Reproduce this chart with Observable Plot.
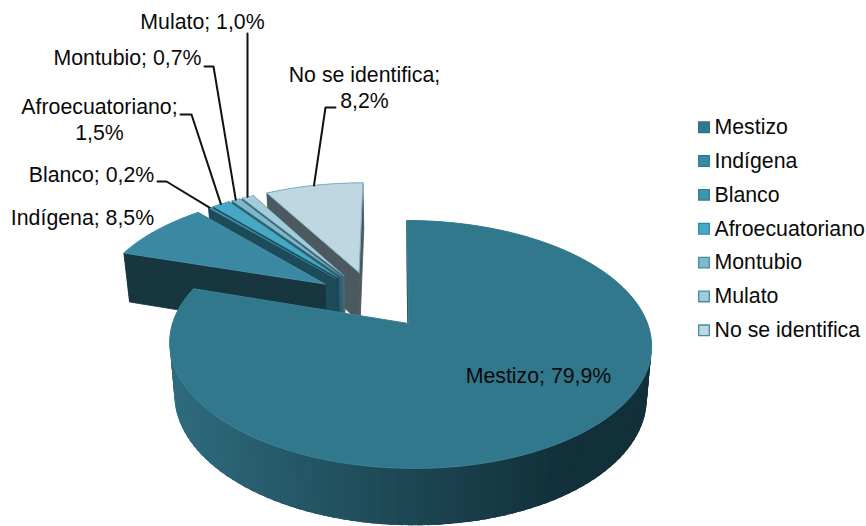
<!DOCTYPE html>
<html><head><meta charset="utf-8">
<style>html,body{margin:0;background:#fff}svg{display:block}</style>
<script src="https://cdn.jsdelivr.net/npm/d3@7"></script>
<script src="https://cdn.jsdelivr.net/npm/@observablehq/plot@0.6"></script>
</head><body><script>
// Data
const categories = ["Mestizo","Indígena","Blanco","Afroecuatoriano","Montubio","Mulato","No se identifica"];
const shares = [79.9,8.5,0.2,1.5,0.7,1.0,8.2];
// Styles
const topColors = ["#31788c","#3a88a2","#4094ae","#46a8c4","#7fb8ca","#a3cbd9","#bfd7e1"];
const edgeColors = ["#3a8296","#4a93ab","#4a9ab2","#4aa6c0","#6fb0c4","#7fb4c6","#7fb0c2"];
const edgeWidths = [1,1,0.3,0.4,0.3,0.4,1];
const wallColors = ["#17363f","#17363f","#1d4b5a","#1b4756","#2f5f70","#41697a","#4c5a60"];
const legendEdge = ["#2f7284","#2f7b93","#33809a","#2f8aa6","#3f8ea6","#3f8ea6","#3f8ea6"];
// Layout
const labelAnchors = [[538,374],[82,216],[91,173],[99,118],[127,56],[202,20],[364,86]];
const labelTexts = ["Mestizo; 79,9%","Indígena; 8,5%","Blanco; 0,2%","Afroecuatoriano;\n1,5%","Montubio; 0,7%","Mulato; 1,0%","No se identifica;\n8,2%"];
const leaderStarts = [null,null,[[157,181],[166,181]],[[180,114],[191,114]],[[204,66],[213,66]],[[247,33]],[[335,107],[325,107]]];
const legendX = 703.5, legendTextX = 714, legendY = 126.7, legendStep = 33.85;
// Perspective model of the disc
const cx = 408, cy = 323, a = 237.5, b = 120.4, k = 0.169, shear = 0.03, burst = 0.257, mainNudge = 1.5;
const fx = 0.98, fy = 1.037, drop = 51.6;
const rad = d => d * Math.PI / 180;
const project = (X, Y) => { const w = 1 - k * Y; const sy = cy + b * Y / w; return [cx + a * X / w + shear * (sy - cy), sy]; };
const lower = ([x, y]) => [cx + (x - cx) * fx, cy + (y - cy) * fy + drop];
const total = d3.sum(shares);
let acc = 0;
const slices = shares.map((v, i) => { const t0 = acc / total * 360; acc += v; const t1 = acc / total * 360; return {i, t0, t1, mid: (t0 + t1) / 2}; });
const midM = rad(slices[0].mid);
const origin = [-burst * Math.sin(midM), burst * Math.cos(midM)];
slices.forEach(s => { const m = rad(s.mid); s.ax = origin[0] + burst * Math.sin(m); s.ay = origin[1] - burst * Math.cos(m); s.nudge = s.i === 0 ? mainNudge : 0; });
const moved = (s, p) => [p[0] + s.nudge, p[1]];
const rim = (s, t) => moved(s, project(s.ax + Math.sin(rad(t)), s.ay - Math.cos(rad(t))));
const apex = s => project(s.ax, s.ay);
const poly = (pts, fill, stroke, strokeWidth) => Plot.line(pts.concat([pts[0]]), {x: d => d[0], y: d => d[1], fill, stroke: stroke || fill, strokeWidth: strokeWidth ?? 0.8, curve: "linear-closed"});
const arcTs = s => { const n = Math.max(2, Math.ceil((s.t1 - s.t0) / 2)); return d3.range(n + 1).map(j => s.t0 + (s.t1 - s.t0) * j / n); };
const shade = d3.interpolateRgb("#2e6c7e", "#12303a");
const marks = [];
// Painter's order: back slices first, Mestizo last
[...slices].reverse().forEach(s => {
  const A = apex(s), A2 = lower(A), P0 = rim(s, s.t0), P1 = rim(s, s.t1);
  const ts = arcTs(s);
  if (s.i > 0) {
    marks.push(poly([A, P1, lower(P1), A2], wallColors[s.i]));
    marks.push(poly([A, P0, lower(P0), A2], wallColors[s.i]));
  }
  // Mestizo's outer wall: each band runs on under the next, so no seams show
  const steps = d3.pairs(ts).sort((u, v) => rim(s, u[0])[0] - rim(s, v[0])[0]);
  steps.forEach(([t0, t1]) => {
    const p0 = rim(s, t0), p1 = rim(s, t1);
    const col = s.i === 0 ? shade(Math.min(1, Math.max(0, (Math.max(p0[0], p1[0]) - 170) / 400))) : wallColors[s.i];
    const over = s.i === 0 ? 1.5 : 0;
    const q0 = rim(s, Math.max(s.t0, t0 - over)), q1 = rim(s, Math.min(s.t1, t1 + over));
    const fillPts = [q0, q1, lower(q1), lower(q0)];
    marks.push(Plot.line(fillPts.concat([fillPts[0]]), {x: d => d[0], y: d => d[1], fill: col, curve: "linear-closed", stroke: "none"}));
  });
  if (s.i === 0) marks.push(poly([A, P0, lower(P0), A2], wallColors[0]));
  marks.push(poly([A, ...ts.map(t => rim(s, t))], topColors[s.i], edgeColors[s.i], edgeWidths[s.i]));
});
// Leaders
slices.forEach(s => {
  if (!leaderStarts[s.i]) return;
  const end = rim(s, s.mid);
  marks.push(Plot.line([...leaderStarts[s.i], end], {x: d => d[0], y: d => d[1], stroke: "#111", strokeWidth: 2}));
});
// Labels
const font = {fontFamily: "'Liberation Sans', Arial, sans-serif", fontSize: 21.3, fill: "#0a0a0a", lineHeight: 1.22};
marks.push(Plot.text(categories.map((c, i) => i), {x: i => labelAnchors[i][0], y: i => labelAnchors[i][1], text: i => labelTexts[i], textAnchor: "middle", ...font}));
// Legend
marks.push(Plot.dot(categories, {x: () => legendX, y: (d, i) => legendY + i * legendStep, r: 6, symbol: "square", fill: (d, i) => topColors[i], stroke: (d, i) => legendEdge[i], strokeWidth: 1.3}));
marks.push(Plot.text(categories, {x: () => legendTextX, y: (d, i) => legendY - 1.5 + i * legendStep, text: d => d, textAnchor: "start", ...font}));
document.body.append(Plot.plot({width: 866, height: 526, margin: 0,
  x: {domain: [0, 866], range: [0, 866], axis: null},
  y: {domain: [0, 526], range: [0, 526], axis: null},
  marks}));
</script></body></html>
